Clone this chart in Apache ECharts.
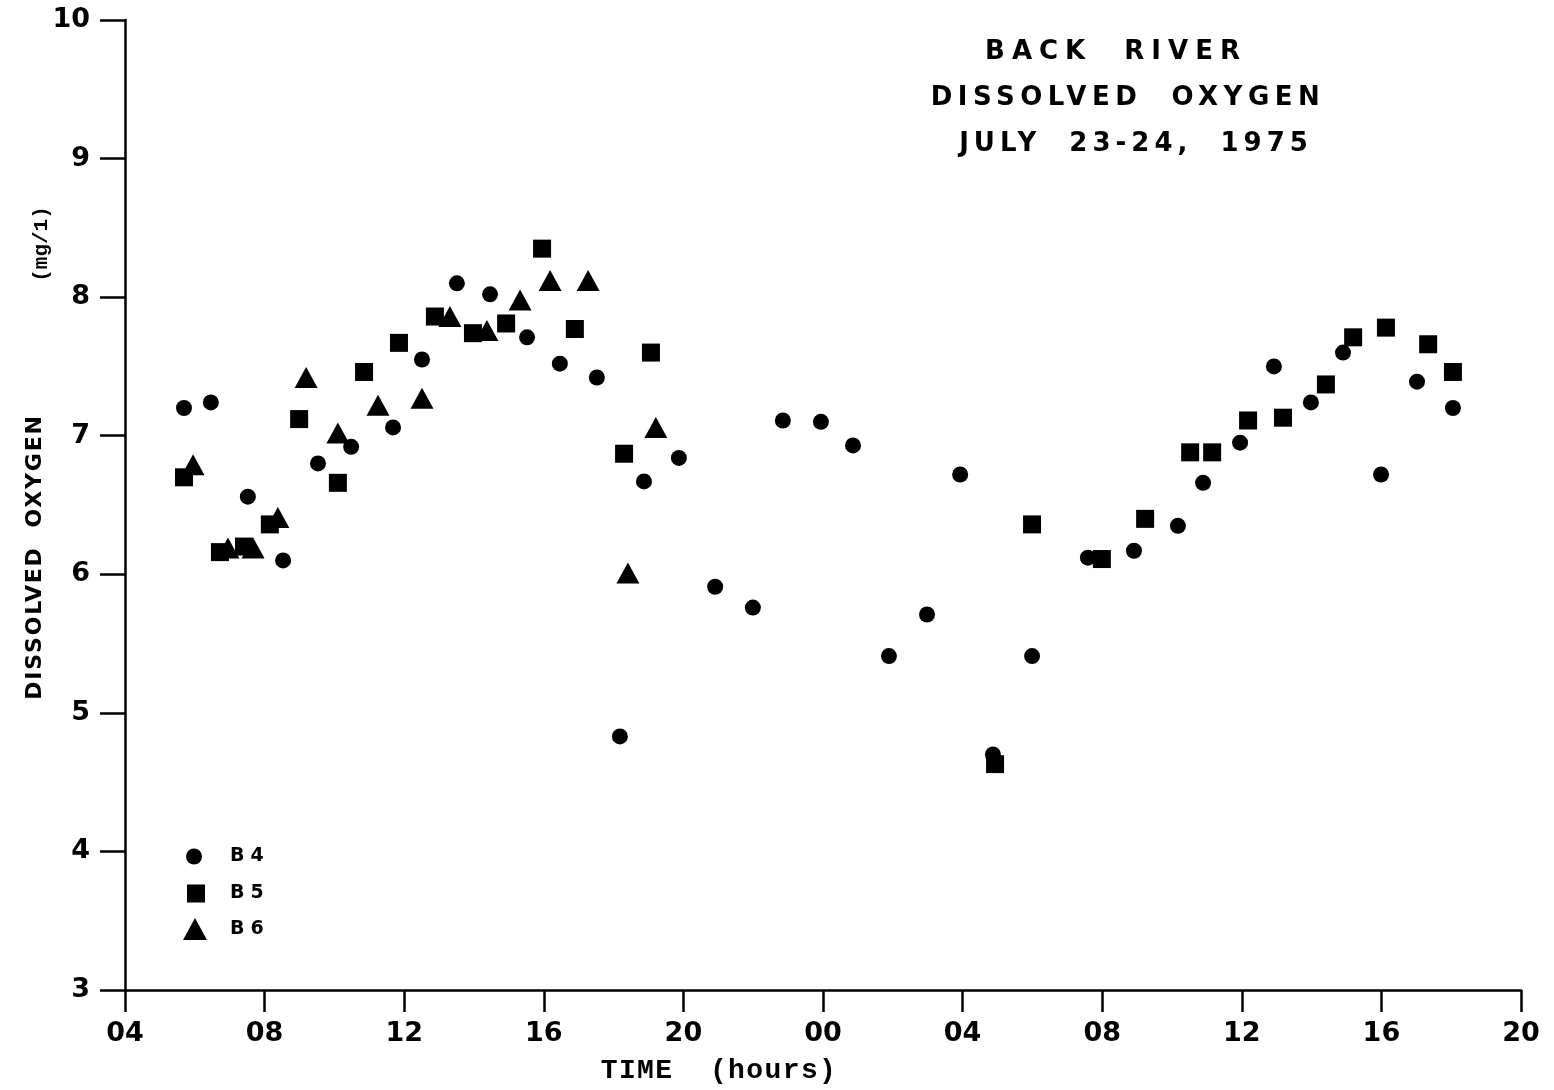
<!DOCTYPE html>
<html>
<head>
<meta charset="utf-8">
<script src="https://cdn.jsdelivr.net/npm/echarts@6/dist/echarts.min.js"></script>
<style>
html,body{margin:0;padding:0;background:#fff;}
#chart{width:1554px;height:1090px;}
</style>
</head>
<body>
<div id="chart"></div>
<script>
// ---- data (time in hours from 00:00 July 23; dissolved oxygen in mg/l) ----
const xTickLabels = ['04','08','12','16','20','00','04','08','12','16','20'];
const yTickLabels = ['3','4','5','6','7','8','9','10'];

const b4Time = [5.69,6.46,7.52,8.53,9.53,10.48,11.68,12.51,13.51,14.46,15.52,16.46,17.52,18.18,18.87,19.87,20.91,21.99,22.85,23.94,24.86,25.89,26.98,27.93,28.87,29.99,31.59,32.91,34.17,34.89,35.95,36.92,37.98,38.90,39.99,41.02,42.05];
const b4DO   = [7.20,7.24,6.56,6.10,6.80,6.92,7.06,7.55,8.10,8.02,7.71,7.52,7.42,4.83,6.67,6.84,5.91,5.76,7.11,7.10,6.93,5.41,5.71,6.72,4.70,5.41,6.12,6.17,6.35,6.66,6.95,7.50,7.24,7.60,6.72,7.39,7.20];

const b5Time = [5.69,6.72,7.41,8.15,8.99,10.10,10.85,11.85,12.88,13.97,14.92,15.95,16.89,18.30,19.07,28.93,29.99,31.99,33.23,34.52,35.15,36.18,37.18,38.41,39.19,40.13,41.34,42.05];
const b5DO   = [6.70,6.16,6.20,6.36,7.12,6.66,7.46,7.67,7.86,7.74,7.81,8.35,7.77,6.87,7.60,4.63,6.36,6.11,6.40,6.88,6.88,7.11,7.13,7.37,7.71,7.78,7.66,7.46];

const b6Time = [5.95,6.95,7.67,8.38,9.19,10.10,11.25,12.51,13.31,14.37,15.32,16.18,17.27,18.41,19.21];
const b6DO   = [6.79,6.19,6.19,6.41,7.42,7.02,7.22,7.27,7.86,7.76,7.98,8.12,8.12,6.01,7.06];

const seriesNames = ['B4','B5','B6'];
const titleLines = ['BACK  RIVER','DISSOLVED  OXYGEN','JULY  23-24,  1975'];
const yName1 = 'DISSOLVED  OXYGEN';
const yName2 = '(mg/1)';
const xName = 'TIME  (hours)';

// ---- letter spacing for the hand-lettered look (canvas letterSpacing, per draw) ----
const LS = {
  'BACK  RIVER|26': 7,
  'DISSOLVED  OXYGEN|26': 5.5,
  'JULY  23-24,  1975|26': 5,
  'DISSOLVED  OXYGEN|22': 1.8,
  'TIME  (hours)|28': 1.4,
  'B4|19': 6, 'B5|19': 6, 'B6|19': 6
};
(function(){
  const proto = CanvasRenderingContext2D.prototype;
  const orig = proto.fillText;
  const hasLS = ('letterSpacing' in proto);
  proto.fillText = function(t){
    if (!hasLS) return orig.apply(this, arguments);
    const m = /(\d+(?:\.\d+)?)px/.exec(this.font || '');
    const key = t + '|' + (m ? Math.round(parseFloat(m[1])) : '');
    const sp = Object.prototype.hasOwnProperty.call(LS, key) ? LS[key] : 0;
    this.save();
    this.letterSpacing = sp + 'px';
    const r = orig.apply(this, arguments);
    this.restore();
    return r;
  };
})();

function zip(a, b){ return a.map((v,i)=>[v,b[i]]); }

const SANS = 'DejaVu Sans';
const BLACK = '#000';

function legendFor(name, left, top, w, h, pad){
  return {
    orient:'vertical', left:left, top:top, padding:0,
    itemWidth:w, itemHeight:h, itemGap:0, selectedMode:false,
    formatter: function(n){ return '{t|' + n + '}'; },
    textStyle:{fontFamily:SANS, fontWeight:'bold', fontSize:19, color:BLACK,
      rich:{t:{fontFamily:SANS, fontWeight:'bold', fontSize:19, color:BLACK, padding:[0,0,0,pad]}}},
    data:[name]
  };
}

const chart = echarts.init(document.getElementById('chart'), null, {renderer:'canvas'});

const option = {
  animation: false,
  backgroundColor: '#fff',
  grid: {left:125, right:33, top:20, bottom:100, containLabel:false, outerBoundsMode:'none'},
  xAxis: {
    type:'value', min:4, max:44, interval:4,
    axisLine:{show:true, onZero:false, lineStyle:{color:BLACK, width:2.5}},
    axisTick:{show:true, inside:false, length:22, lineStyle:{color:BLACK, width:2.5}},
    axisLabel:{show:true, margin:30, color:BLACK, fontFamily:SANS, fontWeight:'bold', fontSize:27,
      formatter:function(v){ return xTickLabels[Math.round((v-4)/4)]; }},
    splitLine:{show:false}
  },
  yAxis: {
    type:'value', min:3, max:10, interval:1,
    axisLine:{show:true, onZero:false, lineStyle:{color:BLACK, width:2.5}},
    axisTick:{show:true, inside:false, length:25, lineStyle:{color:BLACK, width:2.5}},
    axisLabel:{show:true, margin:35, color:BLACK, fontFamily:SANS, fontWeight:'bold', fontSize:27,
      formatter:function(v){ return yTickLabels[Math.round(v-3)]; }},
    splitLine:{show:false}
  },
  legend: [
    legendFor(seriesNames[0], 186, 847, 16, 16, 23),
    legendFor(seriesNames[1], 187, 884, 18, 18, 20),
    legendFor(seriesNames[2], 183, 918, 24, 22, 18)
  ],
  series: [
    {name:seriesNames[0], type:'scatter', symbol:'circle', symbolSize:16,
     itemStyle:{color:BLACK, opacity:1}, data: zip(b4Time, b4DO), z:3},
    {name:seriesNames[1], type:'scatter', symbol:'rect', symbolSize:18,
     itemStyle:{color:BLACK, opacity:1}, data: zip(b5Time, b5DO), z:2},
    {name:seriesNames[2], type:'scatter', symbol:'triangle', symbolSize:[23,21],
     itemStyle:{color:BLACK, opacity:1}, data: zip(b6Time, b6DO), z:2}
  ],
  graphic: [
    {type:'text', x:1116, y:52, style:{text:titleLines[0], font:'bold 26px "DejaVu Sans"', fill:BLACK, align:'center', verticalAlign:'middle', textAlign:'center', textVerticalAlign:'middle'}},
    {type:'text', x:1128, y:98, style:{text:titleLines[1], font:'bold 26px "DejaVu Sans"', fill:BLACK, align:'center', verticalAlign:'middle', textAlign:'center', textVerticalAlign:'middle'}},
    {type:'text', x:1136, y:144, style:{text:titleLines[2], font:'bold 26px "DejaVu Sans"', fill:BLACK, align:'center', verticalAlign:'middle', textAlign:'center', textVerticalAlign:'middle'}},
    {type:'text', x:35, y:557, rotation:Math.PI/2, style:{text:yName1, font:'bold 22px "DejaVu Sans"', fill:BLACK, align:'center', verticalAlign:'middle', textAlign:'center', textVerticalAlign:'middle'}},
    {type:'text', x:42, y:244, rotation:Math.PI/2, style:{text:yName2, font:'bold 21px "Liberation Mono"', fill:BLACK, align:'center', verticalAlign:'middle', textAlign:'center', textVerticalAlign:'middle'}},
    {type:'text', x:719, y:1071, style:{text:xName, font:'bold 28px "Liberation Mono"', fill:BLACK, align:'center', verticalAlign:'middle', textAlign:'center', textVerticalAlign:'middle'}}
  ]
};
chart.setOption(option);
</script>
</body>
</html>
